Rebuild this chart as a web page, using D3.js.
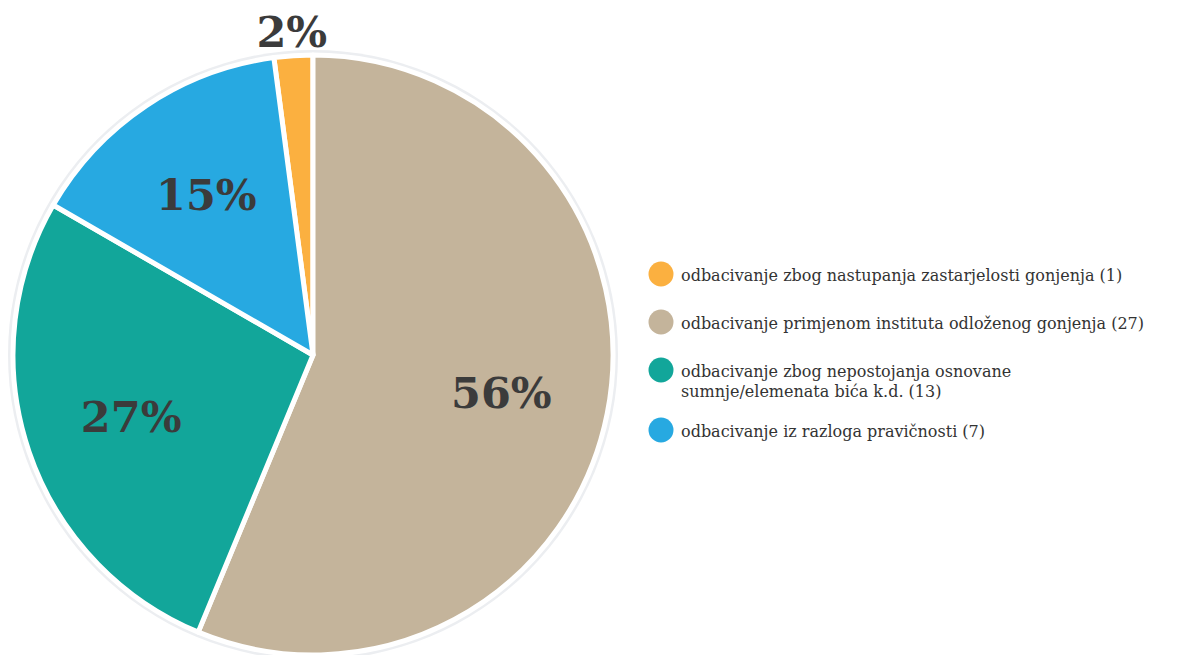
<!DOCTYPE html>
<html>
<head>
<meta charset="utf-8">
<script src="https://cdn.jsdelivr.net/npm/d3@7"></script>
<style>
    body { margin: 0; background: #fff; }
    svg { display: block; }
</style>
</head>
<body>
<svg id="chart" width="1187" height="655"></svg>
<script>
// data, in legend order
var categories = [
    "odbacivanje zbog nastupanja zastarjelosti gonjenja (1)",
    "odbacivanje primjenom instituta odloženog gonjenja (27)",
    "odbacivanje zbog nepostojanja osnovane|sumnje/elemenata bića k.d. (13)",
    "odbacivanje iz razloga pravičnosti (7)"
];
var values = [1, 27, 13, 7];
var colors = ["#fbb040", "#c4b49b", "#12a69a", "#27a9e1"];

var svg = d3.select("#chart"),
    width = +svg.attr("width"),
    height = +svg.attr("height");

var cx = 313, cy = 355, radius = 300;
var total = d3.sum(values);

// first slice ends exactly at 12 o'clock
var start = -2 * Math.PI * values[0] / total;
var pie = d3.pie().sort(null)
    .startAngle(start)
    .endAngle(start + 2 * Math.PI);

var arc = d3.arc().innerRadius(0).outerRadius(radius);
var labelArc = d3.arc().innerRadius(radius * 0.64).outerRadius(radius * 0.64);
var outerLabelArc = d3.arc().innerRadius(radius + 24).outerRadius(radius + 24);

var g = svg.append("g").attr("transform", "translate(" + cx + "," + cy + ")");

/* light rim behind the slices */
g.append("circle")
    .attr("r", radius + 5)
    .attr("fill", "#eceef1");

var arcs = pie(values);

g.selectAll("path.slice")
    .data(arcs)
    .enter().append("path")
    .attr("class", "slice")
    .attr("d", arc)
    .attr("fill", function (d, i) { return colors[i]; })
    .attr("stroke", "#fff")
    .attr("stroke-width", 5)
    .attr("stroke-linejoin", "round");

g.selectAll("text.pct")
    .data(arcs)
    .enter().append("text")
    .attr("class", "pct")
    .attr("transform", function (d) {
        var small = (d.value / total) < 0.05;
        var c = small ? outerLabelArc.centroid(d) : labelArc.centroid(d);
        return "translate(" + c[0] + "," + c[1] + ")";
    })
    .attr("text-anchor", "middle")
    .attr("dy", "0.35em")
    .style("font-family", "'DejaVu Serif', Georgia, serif")
    .style("font-weight", "bold")
    .style("font-size", "43px")
    .style("fill", "#3b3b3b")
    .text(function (d) { return Math.round(d.value / total * 100) + "%"; });

/* legend */
var legX = 661, legY = 274;
var lineH = 20;
var legend = svg.append("g").attr("class", "legend");
var y = legY;

categories.forEach(function (c, i) {
    var lines = c.split("|");
    var item = legend.append("g").attr("transform", "translate(" + legX + "," + y + ")");
    item.append("circle")
        .attr("r", 12.5)
        .attr("fill", colors[i]);
    var t = item.append("text")
        .attr("x", 20)
        .attr("y", 7)
        .style("font-family", "'DejaVu Serif', Georgia, serif")
        .style("font-size", "16px")
        .style("fill", "#333");
    lines.forEach(function (l, j) {
        t.append("tspan")
            .attr("x", 20)
            .attr("dy", j === 0 ? 0 : lineH)
            .text(l);
    });
    y += Math.max(48, lines.length * lineH + 20);
});
</script>
</body>
</html>
